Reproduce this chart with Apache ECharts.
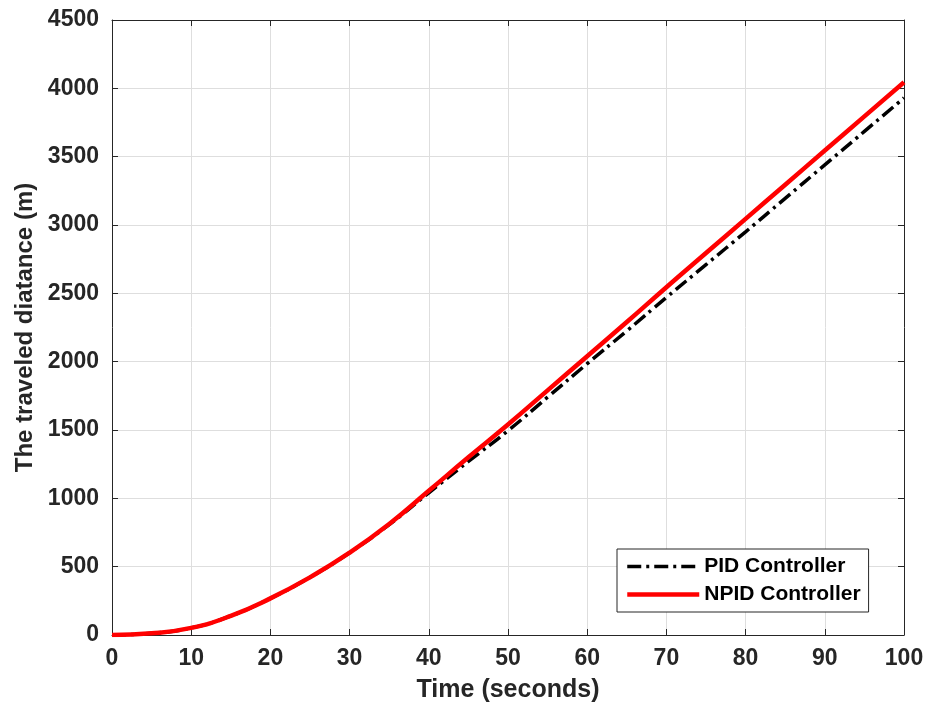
<!DOCTYPE html>
<html>
<head>
<meta charset="utf-8">
<script src="https://cdn.jsdelivr.net/npm/echarts@6/dist/echarts.min.js"></script>
<style>html,body{margin:0;padding:0;background:#fff;}#c{width:929px;height:712px;}</style>
</head>
<body>
<div id="c"></div>
<script>
var time = [0,5,10,15,20,25,30,35,40,45,50,55,60,65,70,75,80,85,90,95,100];
var pidValues = [0,12,52,140,268,422,602,808,1040,1270,1495,1740,1985,2225,2470,2710,2950,3195,3440,3685,3930];
var npidValues = [0,12,52,140,268,422,602,812,1055,1300,1540,1790,2040,2290,2545,2795,3045,3295,3545,3795,4045];
var xTicks = [0,10,20,30,40,50,60,70,80,90,100];
var yTicks = [0,500,1000,1500,2000,2500,3000,3500,4000,4500];
var seriesNames = ['PID Controller','NPID Controller'];

function pairs(v){ return time.map(function(t,i){ return [t, v[i]]; }); }

var FONT = '"Liberation Sans", Arial, sans-serif';
var AX = '#262626';
var PID_DASH = [14,5,3,5];
var chart = echarts.init(document.getElementById('c'), null, {renderer:'canvas'});
var baseAxis = {
  axisLine:{show:true, onZero:false, lineStyle:{color:AX, width:1}},
  axisTick:{show:true, inside:true, length:6, lineStyle:{color:AX}},
};
chart.setOption({
  animation:false,
  backgroundColor:'#fff',
  grid:{left:112, right:25, top:20, bottom:77, containLabel:false},
  legend:{
    orient:'vertical', left:617, top:549,
    data:[
      {name:seriesNames[0], itemStyle:{opacity:0}, lineStyle:{color:'#000', width:3.5, type:PID_DASH}},
      {name:seriesNames[1], itemStyle:{opacity:0}, lineStyle:{color:'#ff0000', width:4.5}}
    ],
    backgroundColor:'#fff', borderColor:AX, borderWidth:1,
    padding:[7,8,7,8], itemGap:7, itemWidth:72, itemHeight:17,
    textStyle:{fontFamily:FONT, fontWeight:'bold', fontSize:21, color:'#000'}
  },
  xAxis:[
    Object.assign({}, baseAxis, {
      type:'value', min:0, max:100, interval:10, position:'bottom',
      name:'Time (seconds)', nameLocation:'middle', nameGap:43,
      nameTextStyle:{fontFamily:FONT, fontWeight:'bold', fontSize:25, color:AX},
      axisLabel:{fontFamily:FONT, fontWeight:'bold', fontSize:23, color:AX, margin:12,
        formatter:function(v){ return xTicks.indexOf(v)>=0 ? String(v) : ''; }},
      splitLine:{show:true, lineStyle:{color:'#dedede', width:1}}
    }),
    Object.assign({}, baseAxis, {
      type:'value', min:0, max:100, interval:10, position:'top',
      axisLabel:{show:false}, splitLine:{show:false}
    })
  ],
  yAxis:[
    Object.assign({}, baseAxis, {
      type:'value', min:0, max:4500, interval:500, position:'left',
      name:'The traveled diatance (m)', nameLocation:'middle', nameGap:74,
      nameTextStyle:{fontFamily:FONT, fontWeight:'bold', fontSize:24, color:AX},
      axisLabel:{fontFamily:FONT, fontWeight:'bold', fontSize:23, color:AX, margin:13,
        formatter:function(v){ return yTicks.indexOf(v)>=0 ? String(v) : ''; }},
      splitLine:{show:true, lineStyle:{color:'#dedede', width:1}}
    }),
    Object.assign({}, baseAxis, {
      type:'value', min:0, max:4500, interval:500, position:'right',
      axisLabel:{show:false}, splitLine:{show:false}
    })
  ],
  series:[
    {
      name:seriesNames[0], type:'line', data:pairs(pidValues), smooth:0.5,
      showSymbol:false, symbol:'none', z:2,
      lineStyle:{color:'#000', width:3.5, type:PID_DASH},
      itemStyle:{color:'#000'}
    },
    {
      name:seriesNames[1], type:'line', data:pairs(npidValues), smooth:0.5,
      showSymbol:false, symbol:'none', z:3,
      lineStyle:{color:'#ff0000', width:4.5},
      itemStyle:{color:'#ff0000'}
    }
  ]
});
</script>
</body>
</html>
